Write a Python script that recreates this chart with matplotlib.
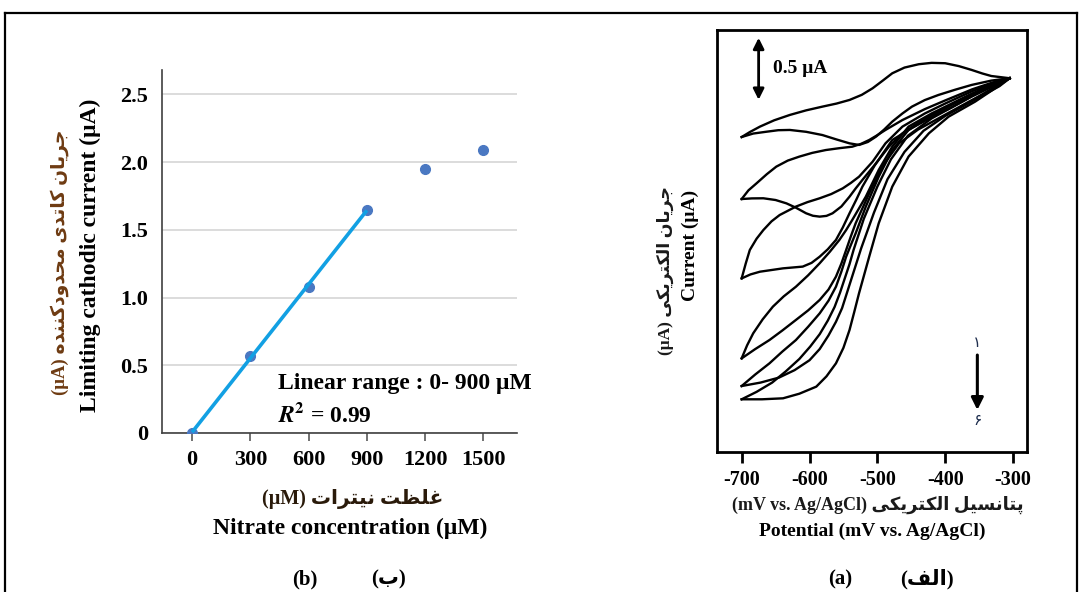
import numpy as np
import matplotlib
matplotlib.use("Agg")
import matplotlib.pyplot as plt
from matplotlib.lines import Line2D

plt.rcParams['axes.unicode_minus'] = False
plt.rcParams['mathtext.fontset'] = 'stix'

SERIF = 'Liberation Serif'
MIXED = ['Liberation Serif', 'DejaVu Sans']

# ---- panel (b): limiting current vs nitrate
nitrate_um = [0, 300, 600, 900, 1200, 1500]
cathodic_ua = [0.0, 0.57, 1.08, 1.65, 1.95, 2.09]
n_linear = 4
b_yticks = [0, 0.5, 1.0, 1.5, 2.0, 2.5]
b_yticklabels = ['0', '0.5', '1.0', '1.5', '2.0', '2.5']

# ---- panel (a): cyclic voltammograms (mV, uA), forward / return branch
cycle1_up = [(-700, -0.46), (-688, -0.42), (-673, -0.376), (-652, -0.325), (-629, -0.282), (-605, -0.245),
             (-581, -0.215), (-560, -0.19), (-541, -0.161), (-523, -0.12), (-507, -0.067), (-492, -0.005),
             (-478, 0.054), (-460, 0.10), (-439, 0.127), (-420, 0.138), (-400, 0.135), (-380, 0.112),
             (-361, 0.081), (-345, 0.052), (-332, 0.032), (-305, 0.014)]
cycle1_dn = [(-700, -0.46), (-683, -0.432), (-663, -0.417), (-646, -0.405), (-629, -0.403), (-605, -0.418),
             (-581, -0.444), (-560, -0.48), (-541, -0.511), (-527, -0.524), (-514, -0.50), (-502, -0.457),
             (-490, -0.40), (-478, -0.336), (-463, -0.27), (-449, -0.215), (-430, -0.162), (-410, -0.121),
             (-385, -0.078), (-361, -0.040), (-332, -0.005), (-305, 0.014)]
cycle2_up = [(-700, -0.96), (-690, -0.89), (-678, -0.833), (-663, -0.76), (-649, -0.699), (-632, -0.65),
             (-615, -0.618), (-596, -0.588), (-576, -0.565), (-556, -0.55), (-537, -0.538), (-524, -0.515),
             (-512, -0.484), (-500, -0.445), (-488, -0.403), (-463, -0.323), (-430, -0.235), (-400, -0.165),
             (-360, -0.075), (-330, -0.02), (-305, 0.014)]
cycle2_dn = [(-700, -0.96), (-685, -0.955), (-668, -0.954), (-650, -0.968), (-634, -0.995), (-620, -1.03),
             (-605, -1.075), (-595, -1.095), (-585, -1.102), (-575, -1.096), (-566, -1.075), (-553, -1.02),
             (-541, -0.941), (-532, -0.875), (-522, -0.806), (-502, -0.672), (-483, -0.538), (-463, -0.43),
             (-430, -0.31), (-400, -0.22), (-360, -0.11), (-330, -0.04), (-305, 0.014)]
cycle3_up = [(-700, -1.60), (-694, -1.48), (-688, -1.371), (-678, -1.28), (-668, -1.21), (-656, -1.14),
             (-644, -1.089), (-620, -1.021), (-603, -0.985), (-585, -0.954), (-568, -0.92), (-551, -0.874),
             (-539, -0.83), (-527, -0.78), (-507, -0.659), (-488, -0.511), (-463, -0.376), (-430, -0.27),
             (-400, -0.19), (-360, -0.09), (-330, -0.03), (-305, 0.014)]
cycle3_dn = [(-700, -1.60), (-687, -1.568), (-673, -1.546), (-639, -1.519), (-610, -1.505), (-597, -1.475),
             (-585, -1.425), (-573, -1.365), (-561, -1.29), (-551, -1.19), (-541, -1.075), (-531, -0.965),
             (-522, -0.86), (-504, -0.69), (-478, -0.484), (-450, -0.39), (-420, -0.30), (-390, -0.22),
             (-360, -0.13), (-330, -0.05), (-305, 0.014)]
cycle4_up = [(-700, -2.245), (-692, -2.14), (-683, -2.043), (-669, -1.93), (-654, -1.828), (-638, -1.745),
             (-620, -1.667), (-602, -1.575), (-585, -1.478), (-570, -1.385), (-556, -1.29), (-546, -1.21),
             (-537, -1.129), (-517, -0.941), (-498, -0.726), (-478, -0.538), (-454, -0.376), (-420, -0.27),
             (-390, -0.19), (-360, -0.11), (-330, -0.04), (-305, 0.014)]
cycle4_dn = [(-700, -2.245), (-680, -2.17), (-659, -2.097), (-640, -2.02), (-620, -1.935), (-602, -1.858),
             (-585, -1.774), (-572, -1.69), (-561, -1.586), (-553, -1.48), (-546, -1.371), (-539, -1.26),
             (-532, -1.156), (-512, -0.914), (-493, -0.699), (-468, -0.511), (-440, -0.40), (-410, -0.31),
             (-380, -0.22), (-350, -0.13), (-325, -0.05), (-305, 0.014)]
cycle5_up = [(-700, -2.468), (-680, -2.375), (-659, -2.285), (-640, -2.19), (-620, -2.097), (-602, -1.99),
             (-585, -1.882), (-572, -1.78), (-561, -1.667), (-553, -1.545), (-546, -1.425), (-539, -1.33),
             (-532, -1.237), (-517, -1.021), (-498, -0.78), (-478, -0.565), (-454, -0.403), (-420, -0.29),
             (-390, -0.20), (-360, -0.12), (-330, -0.045), (-305, 0.014)]
cycle5_dn = [(-700, -2.468), (-672, -2.44), (-645, -2.40), (-622, -2.34), (-600, -2.26), (-585, -2.17),
             (-572, -2.06), (-561, -1.95), (-552, -1.84), (-545, -1.72), (-538, -1.60), (-531, -1.48),
             (-524, -1.36), (-505, -1.07), (-485, -0.80), (-460, -0.58), (-432, -0.41), (-400, -0.29),
             (-370, -0.20), (-340, -0.11), (-320, -0.05), (-305, 0.014)]
cycle6_up = [(-700, -2.575), (-678, -2.515), (-655, -2.44), (-635, -2.35), (-615, -2.25), (-599, -2.15),
             (-585, -2.05), (-573, -1.94), (-563, -1.83), (-555, -1.715), (-548, -1.60), (-541, -1.485),
             (-535, -1.37), (-520, -1.12), (-500, -0.86), (-480, -0.64), (-455, -0.45), (-420, -0.31),
             (-390, -0.22), (-360, -0.13), (-330, -0.05), (-305, 0.014)]
cycle6_dn = [(-700, -2.575), (-670, -2.575), (-639, -2.567), (-615, -2.53), (-590, -2.473), (-575, -2.39),
             (-561, -2.285), (-550, -2.16), (-541, -2.016), (-534, -1.87), (-527, -1.72), (-512, -1.425),
             (-498, -1.156), (-478, -0.86), (-454, -0.618), (-424, -0.43), (-395, -0.296), (-356, -0.175),
             (-330, -0.08), (-305, 0.014)]
cycles = [(cycle1_up, cycle1_dn), (cycle2_up, cycle2_dn), (cycle3_up, cycle3_dn),
          (cycle4_up, cycle4_dn), (cycle5_up, cycle5_dn), (cycle6_up, cycle6_dn)]
cv_xticks = [-700, -600, -500, -400, -300]

# ---- texts (Persian in logical order, shaped below)
b_ylabel_fa = "جریان کاتدی محدودکننده"
b_ylabel_en = "Limiting cathodic current (μA)"
b_xlabel_fa = "غلظت نیترات"
b_xlabel_en = "Nitrate concentration (μM)"
a_ylabel_fa = "جریان الکتریکی"
a_ylabel_en = "Current (μA)"
a_xlabel_fa = "پتانسیل الکتریکی"
a_xlabel_en = "Potential (mV vs. Ag/AgCl)"
label_b_fa = "ب"
label_a_fa = "الف"

# presentation forms: (isolated, final, initial, medial)
FORMS = {
    'ا': ('\uFE8D', '\uFE8E'), 'د': ('\uFEA9', '\uFEAA'),
    'ر': ('\uFEAD', '\uFEAE'), 'و': ('\uFEED', '\uFEEE'),
    'ب': ('\uFE8F', '\uFE90', '\uFE91', '\uFE92'), 'پ': ('\uFB56', '\uFB57', '\uFB58', '\uFB59'),
    'ت': ('\uFE95', '\uFE96', '\uFE97', '\uFE98'), 'ج': ('\uFE9D', '\uFE9E', '\uFE9F', '\uFEA0'),
    'ح': ('\uFEA1', '\uFEA2', '\uFEA3', '\uFEA4'), 'س': ('\uFEB1', '\uFEB2', '\uFEB3', '\uFEB4'),
    'ظ': ('\uFEC5', '\uFEC6', '\uFEC7', '\uFEC8'), 'غ': ('\uFECD', '\uFECE', '\uFECF', '\uFED0'),
    'ف': ('\uFED1', '\uFED2', '\uFED3', '\uFED4'), 'ک': ('\uFB8E', '\uFB8F', '\uFB90', '\uFB91'),
    'ل': ('\uFEDD', '\uFEDE', '\uFEDF', '\uFEE0'), 'م': ('\uFEE1', '\uFEE2', '\uFEE3', '\uFEE4'),
    'ن': ('\uFEE5', '\uFEE6', '\uFEE7', '\uFEE8'), 'ه': ('\uFEE9', '\uFEEA', '\uFEEB', '\uFEEC'),
    'ی': ('\uFBFC', '\uFBFD', '\uFBFE', '\uFBFF'),
}


def fa(text):
    # crude shaping + visual reordering, matplotlib does neither
    out = []
    for i, ch in enumerate(text):
        forms = FORMS.get(ch)
        if forms is None:
            out.append(ch)
            continue
        prev = text[i - 1] if i > 0 else ''
        nxt = text[i + 1] if i + 1 < len(text) else ''
        jp = prev in FORMS and len(FORMS[prev]) == 4
        jn = len(forms) == 4 and nxt in FORMS
        if jp and jn:
            out.append(forms[3])
        elif jp:
            out.append(forms[1])
        elif jn:
            out.append(forms[2])
        else:
            out.append(forms[0])
    return ''.join(reversed(out))


W, H = 1079, 592
fig = plt.figure(figsize=(W / 100, H / 100), dpi=100)


def fx(px):
    return px / W


def fy(py):
    return 1 - py / H


# ---------------- panel (b)
axb = fig.add_axes([fx(162), fy(433), (517 - 162) / W, (433 - 70) / H])
axb.set_xlim(-155, 1673)
axb.set_ylim(0, 2.68)
axb.yaxis.grid(True, color='#d9d9d9', lw=1.3)
axb.set_axisbelow(True)
for s in ['top', 'right']:
    axb.spines[s].set_visible(False)
for s in ['left', 'bottom']:
    axb.spines[s].set_color('#404040')
    axb.spines[s].set_linewidth(1.2)
axb.set_yticks(b_yticks)
axb.set_yticklabels(b_yticklabels)
axb.set_xticks(nitrate_um)
axb.tick_params(axis='y', length=0, pad=10)
axb.tick_params(axis='x', length=6, width=1.2, color='#595959', pad=6)
for t in axb.get_xticklabels() + axb.get_yticklabels():
    t.set_fontfamily(SERIF)
    t.set_fontweight('bold')
    t.set_fontsize(16)

axb.plot(nitrate_um, cathodic_ua, 'o', ms=7, color='#4a78c2', zorder=3)
slope, icpt = np.polyfit(nitrate_um[:n_linear], cathodic_ua[:n_linear], 1)
xfit = np.array([nitrate_um[0], nitrate_um[n_linear - 1]])
axb.plot(xfit, slope * xfit + icpt, color='#12a0e3', lw=2.6, zorder=4, solid_capstyle='butt')

axb.text(440, 0.369, "Linear range : 0- 900 μM", fontfamily=SERIF, fontweight='bold',
         fontsize=17, va='center', ha='left')
axb.text(440, 0.133, r"$\mathbfit{R}^{\mathbf{2}}$" + " = 0.99", fontfamily=SERIF, fontweight='bold',
         fontsize=17, va='center', ha='left')

fig.text(fx(60), fy(262), "(μA) " + fa(b_ylabel_fa), rotation=90, ha='center', va='center',
         fontfamily=MIXED, fontweight='bold', fontsize=13.5, color='#6e3b12')
fig.text(fx(90), fy(255), b_ylabel_en, rotation=90, ha='center', va='center',
         fontfamily=SERIF, fontweight='bold', fontsize=17)
fig.text(fx(353), fy(499), "(μM) " + fa(b_xlabel_fa), ha='center', va='center',
         fontfamily=MIXED, fontweight='bold', fontsize=14.5, color='#2a1a0a')
fig.text(fx(350), fy(528), b_xlabel_en, ha='center', va='center',
         fontfamily=SERIF, fontweight='bold', fontsize=17)

# ---------------- panel (a)
axa = fig.add_axes([fx(716.7), fy(452), (1027 - 716.7) / W, (452 - 30) / H])
axa.set_xlim(-736.8, -279.4)
axa.set_ylim(-3.0, 0.403)
for s in axa.spines.values():
    s.set_linewidth(2)
    s.set_color('black')
axa.set_yticks([])
axa.set_xticks(cv_xticks)
axa.set_xticklabels([str(v) for v in cv_xticks])
axa.tick_params(axis='x', length=8, width=2, pad=5)
for t in axa.get_xticklabels():
    t.set_fontfamily(SERIF)
    t.set_fontweight('bold')
    t.set_fontsize(14.5)

for up, dn in cycles:
    for branch in (up, dn):
        e, i = zip(*branch)
        axa.plot(e, i, color='black', lw=1.7, solid_joinstyle='round')

axa.annotate('', xy=(-675, -0.16), xytext=(-675, 0.34),
             arrowprops=dict(arrowstyle='<|-|>', color='black', lw=2, mutation_scale=16,
                             shrinkA=0, shrinkB=0))
axa.text(-654, 0.089, "0.5 μA", fontfamily=SERIF, fontweight='bold', fontsize=14,
         va='center', ha='left')

axa.annotate('', xy=(-352.6, -2.661), xytext=(-352.6, -2.218),
             arrowprops=dict(arrowstyle='-|>', color='black', lw=2.2, mutation_scale=18,
                             shrinkA=0, shrinkB=0))
axa.text(-352.6, -2.121, "\u06F1", fontfamily='DejaVu Sans', fontsize=11, ha='center', va='center',
         color='#1f2f4f')
axa.text(-352.6, -2.75, "\u06F6", fontfamily='DejaVu Sans', fontsize=11, ha='center', va='center',
         color='#1f2f4f')

fig.text(fx(665), fy(270), "(μA) " + fa(a_ylabel_fa), rotation=90, ha='center', va='center',
         fontfamily=MIXED, fontweight='bold', fontsize=12.5, color='#1a1a1a')
fig.text(fx(690), fy(245), a_ylabel_en, rotation=90, ha='center', va='center',
         fontfamily=SERIF, fontweight='bold', fontsize=14)
fig.text(fx(878), fy(505), "(mV vs. Ag/AgCl) " + fa(a_xlabel_fa), ha='center', va='center',
         fontfamily=MIXED, fontweight='bold', fontsize=13, color='#1a1a1a')
fig.text(fx(872), fy(531), a_xlabel_en, ha='center', va='center',
         fontfamily=SERIF, fontweight='bold', fontsize=14)

# panel labels
fig.text(fx(305), fy(579), "(b)", ha='center', va='center', fontfamily=SERIF, fontweight='bold', fontsize=15)
fig.text(fx(388), fy(579), "(" + fa(label_b_fa) + ")", ha='center', va='center',
         fontfamily=MIXED, fontweight='bold', fontsize=15)
fig.text(fx(840), fy(579), "(a)", ha='center', va='center', fontfamily=SERIF, fontweight='bold', fontsize=15)
fig.text(fx(927), fy(579), "(" + fa(label_a_fa) + ")", ha='center', va='center',
         fontfamily=MIXED, fontweight='bold', fontsize=15)

# outer frame
fig.add_artist(Line2D([fx(5), fx(5)], [fy(13), 0], color='black', lw=1.6))
fig.add_artist(Line2D([fx(5), fx(1076.5)], [fy(13), fy(13)], color='black', lw=1.6))
fig.add_artist(Line2D([fx(1076.5), fx(1076.5)], [fy(13), 0], color='black', lw=1.6))

fig.savefig('out.png', dpi=100)
